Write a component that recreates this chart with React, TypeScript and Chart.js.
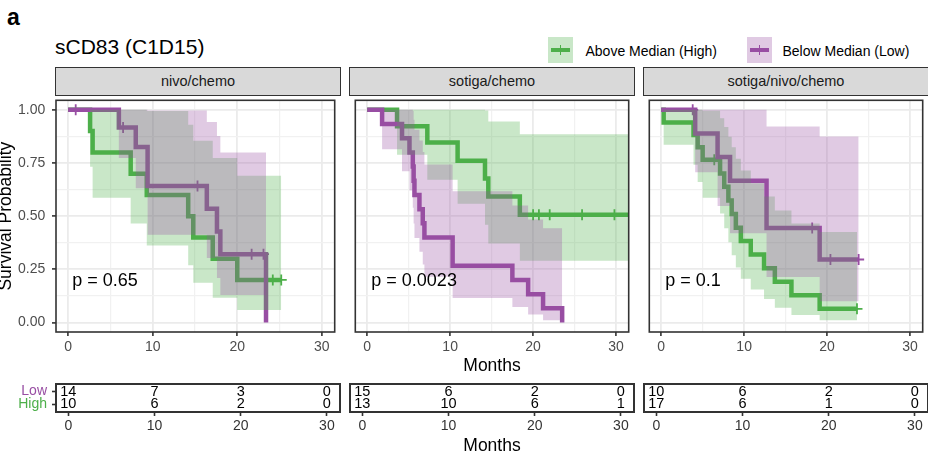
import React, { useEffect, useRef } from "react";
import { Chart, registerables } from "chart.js";

Chart.register(...registerables);

const FONT = "'Liberation Sans', Arial, Helvetica, sans-serif";
Chart.defaults.font.family = FONT;

const GREEN = "#4DAF4A";
const PURPLE = "#984EA3";
const GREEN_FILL = "rgba(77,175,74,0.3)";
const PURPLE_FILL = "rgba(152,78,163,0.3)";

// ---------- labels & ticks ----------
const figureTag = "a";
const plotTitle = "sCD83 (C1D15)";
const facetNames = ["nivo/chemo", "sotiga/chemo", "sotiga/nivo/chemo"];
const pValueLabels = ["p = 0.65", "p = 0.0023", "p = 0.1"];
const groupNames = ["Above Median (High)", "Below Median (Low)"];
const riskRowNames = ["Low", "High"];
const xMajorTicks = [0, 10, 20, 30];
const xGridTicks = [0, 5, 10, 15, 20, 25, 30];
const yMajorTicks = [0, 0.25, 0.5, 0.75, 1];
const yGridTicks = [0, 0.125, 0.25, 0.375, 0.5, 0.625, 0.75, 0.875, 1];
const riskTimes = [0, 10, 20, 30];

// ---------- nivo/chemo ----------
const nc_highTime = [0, 2.6, 2.9, 7.4, 9.3, 14.2, 14.8, 17.1, 20.0, 25.2];
const nc_highSurv = [1, 0.9, 0.8, 0.7, 0.6, 0.5, 0.4, 0.3, 0.2, 0.2];
const nc_highUpper = [1, 1, 1, 1, 0.995, 0.93, 0.855, 0.773, 0.69, 0.69];
const nc_highLower = [1, 0.732, 0.587, 0.466, 0.362, 0.269, 0.187, 0.116, 0.058, 0.058];
const nc_highCensor = [24.2, 25.2];

const nc_lowTime = [0, 6.0, 8.0, 9.4, 16.4, 17.6, 18.0, 23.4];
const nc_lowSurv = [1, 0.917, 0.825, 0.642, 0.535, 0.428, 0.321, 0];
const nc_lowUpper = [1, 1, 1, 0.997, 0.943, 0.877, 0.8, 0.8];
const nc_lowLower = [1, 0.773, 0.631, 0.413, 0.303, 0.209, 0.129, 0.129];
const nc_lowCensor = [0.9, 6.5, 15.3, 21.7, 23.1];

const nc_riskLow = [14, 7, 3, 0];
const nc_riskHigh = [10, 6, 2, 0];

// ---------- sotiga/chemo ----------
const sc_highTime = [0, 3.6, 7.25, 10.9, 14.2, 14.6, 18.4, 31.8];
const sc_highSurv = [1, 0.923, 0.846, 0.761, 0.677, 0.592, 0.507, 0.507];
const sc_highUpper = [1, 1, 1, 1, 0.997, 0.945, 0.885, 0.885];
const sc_highLower = [1, 0.789, 0.671, 0.558, 0.46, 0.371, 0.29, 0.29];
const sc_highCensor = [20.0, 20.7, 22.0, 25.9, 29.8];

const sc_lowTime = [0, 1.8, 4.2, 5.1, 5.5, 5.6, 5.7, 6.3, 6.7, 6.9, 10.3, 17.5, 19.4, 21.2, 23.5];
const sc_lowSurv = [1, 0.933, 0.867, 0.8, 0.733, 0.667, 0.6, 0.533, 0.467, 0.4, 0.267, 0.2, 0.133, 0.067, 0];
const sc_lowUpper = [1, 1, 1, 1, 0.995, 0.954, 0.907, 0.856, 0.802, 0.743, 0.617, 0.55, 0.484, 0.443, 0.443];
const sc_lowLower = [1, 0.815, 0.711, 0.621, 0.54, 0.466, 0.397, 0.332, 0.272, 0.215, 0.115, 0.073, 0.037, 0.01, 0.01];
const sc_lowCensor: number[] = [];

const sc_riskLow = [15, 6, 2, 0];
const sc_riskHigh = [13, 10, 6, 1];

// ---------- sotiga/nivo/chemo ----------
const snc_highTime = [0, 0.3, 3.9, 4.4, 5.0, 7.1, 7.6, 8.1, 8.5, 9.0, 9.6, 10.8, 12.4, 13.7, 15.7, 19.1, 23.6];
const snc_highSurv = [1, 0.941, 0.882, 0.824, 0.765, 0.701, 0.638, 0.574, 0.51, 0.446, 0.383, 0.319, 0.255, 0.191, 0.128, 0.064, 0.064];
const snc_highUpper = [1, 1, 1, 1, 0.996, 0.96, 0.919, 0.873, 0.824, 0.77, 0.715, 0.655, 0.592, 0.527, 0.466, 0.425, 0.425];
const snc_highLower = [1, 0.836, 0.742, 0.661, 0.587, 0.512, 0.443, 0.377, 0.316, 0.258, 0.205, 0.155, 0.11, 0.069, 0.035, 0.01, 0.01];
const snc_highCensor = [6.4, 23.6];

const snc_lowTime = [0, 4.1, 6.8, 8.3, 12.7, 19.1, 23.8];
const snc_lowSurv = [1, 0.889, 0.778, 0.667, 0.444, 0.296, 0.296];
const snc_lowUpper = [1, 1, 1, 1, 0.922, 0.875, 0.875];
const snc_lowLower = [1, 0.706, 0.548, 0.42, 0.214, 0.1, 0.1];
const snc_lowCensor = [3.8, 18.2, 20.4, 23.8];

const snc_riskLow = [10, 6, 2, 0];
const snc_riskHigh = [17, 6, 1, 0];

// ---------- assembled facets ----------
const facets = [
  {
    high: { time: nc_highTime, surv: nc_highSurv, upper: nc_highUpper, lower: nc_highLower, censor: nc_highCensor },
    low: { time: nc_lowTime, surv: nc_lowSurv, upper: nc_lowUpper, lower: nc_lowLower, censor: nc_lowCensor },
    riskLow: nc_riskLow,
    riskHigh: nc_riskHigh,
  },
  {
    high: { time: sc_highTime, surv: sc_highSurv, upper: sc_highUpper, lower: sc_highLower, censor: sc_highCensor },
    low: { time: sc_lowTime, surv: sc_lowSurv, upper: sc_lowUpper, lower: sc_lowLower, censor: sc_lowCensor },
    riskLow: sc_riskLow,
    riskHigh: sc_riskHigh,
  },
  {
    high: { time: snc_highTime, surv: snc_highSurv, upper: snc_highUpper, lower: snc_highLower, censor: snc_highCensor },
    low: { time: snc_lowTime, surv: snc_lowSurv, upper: snc_lowUpper, lower: snc_lowLower, censor: snc_lowCensor },
    riskLow: snc_riskLow,
    riskHigh: snc_riskHigh,
  },
];

// ---------- layout ----------
const X_MIN = -1.43;
const X_MAX = 31.52;
const Y_MIN = -0.045;
const Y_MAX = 1.045;
const PANEL_LEFT = [56, 350, 644];
const PANEL_W = 284;
const PLOT_TOP = 95;
const PLOT_H = 237;
const X_AXIS_H = 45;
const Y_AXIS_W = 60;
const PAD = 2;
const RISK_TOP = 384;
const RISK_H = 28;
const RISK_AXIS_H = 45;
const P_X = 0.5;
const P_Y = 0.195;

const pts = (xs: number[], ys: number[]) => xs.map((x, k) => ({ x, y: ys[k] }));
const stepAt = (xs: number[], ys: number[], t: number) => {
  let v = ys[0];
  for (let k = 0; k < xs.length; k++) if (xs[k] <= t) v = ys[k];
  return v;
};

const framePlugin = (lw: number) => ({
  id: "frame",
  afterDraw(chart: any) {
    const { ctx, chartArea: a } = chart;
    ctx.save();
    ctx.strokeStyle = "#333333";
    ctx.lineWidth = lw;
    ctx.strokeRect(a.left, a.top, a.right - a.left, a.bottom - a.top);
    ctx.restore();
  },
});

function KMPanel({ idx }: { idx: number }) {
  const ref = useRef<HTMLCanvasElement>(null);
  const first = idx === 0;
  const yW = first ? Y_AXIS_W : 0;
  const padLeft = first ? 0 : PAD;
  const left = PANEL_LEFT[idx] - yW - padLeft;
  const width = yW + padLeft + PANEL_W + PAD;
  const top = PLOT_TOP - PAD;
  const height = PAD + PLOT_H + X_AXIS_H;

  useEffect(() => {
    const f = facets[idx];
    const band = (c: any, key: "upper" | "lower", color: string, fill: any) => ({
      data: pts(c.time, c[key]),
      showLine: true,
      stepped: "before",
      borderWidth: 0,
      borderColor: "rgba(0,0,0,0)",
      backgroundColor: color,
      pointRadius: 0,
      pointHoverRadius: 0,
      fill,
      order: 0,
      clip: 0,
    });
    const line = (c: any, color: string) => ({
      data: pts(c.time, c.surv),
      showLine: true,
      stepped: "before",
      borderWidth: 4.5,
      borderColor: color,
      backgroundColor: color,
      borderCapStyle: "butt",
      borderJoinStyle: "miter",
      pointRadius: 0,
      pointHoverRadius: 0,
      fill: false,
      order: 1,
      clip: 0,
    });
    const censor = (c: any, color: string) => ({
      data: c.censor.map((t: number) => ({ x: t, y: stepAt(c.time, c.surv, t) })),
      showLine: false,
      pointStyle: "cross",
      pointRadius: 5.5,
      pointHoverRadius: 5.5,
      pointBorderWidth: 1.8,
      borderColor: color,
      backgroundColor: color,
      order: 1,
    });

    const isMajorX = (v: number) => xMajorTicks.includes(v);
    const isMajorY = (v: number) => yMajorTicks.includes(v);

    const pPlugin = {
      id: "pvalue",
      afterDatasetsDraw(chart: any) {
        const { ctx, scales } = chart;
        ctx.save();
        ctx.font = `18px ${FONT}`;
        ctx.fillStyle = "#000";
        ctx.textAlign = "left";
        ctx.textBaseline = "middle";
        ctx.fillText(pValueLabels[idx], scales.x.getPixelForValue(P_X), scales.y.getPixelForValue(P_Y));
        ctx.restore();
      },
    };

    const chart = new Chart(ref.current as HTMLCanvasElement, {
      type: "scatter",
      data: {
        datasets: [
          band(f.low, "upper", PURPLE_FILL, "+1"),
          band(f.low, "lower", PURPLE_FILL, false),
          band(f.high, "upper", GREEN_FILL, "+1"),
          band(f.high, "lower", GREEN_FILL, false),
          line(f.low, PURPLE),
          line(f.high, GREEN),
          censor(f.low, PURPLE),
          censor(f.high, GREEN),
        ] as any,
      },
      options: {
        responsive: false,
        animation: false,
        events: [],
        layout: { padding: { left: padLeft, right: PAD, top: PAD, bottom: 0 } },
        plugins: { legend: { display: false }, tooltip: { enabled: false } },
        scales: {
          x: {
            type: "linear",
            min: X_MIN,
            max: X_MAX,
            afterBuildTicks: (s: any) => {
              s.ticks = xGridTicks.map((v) => ({ value: v }));
            },
            afterFit: (s: any) => {
              s.height = X_AXIS_H;
              s.paddingLeft = 0;
              s.paddingRight = 0;
              s.paddingTop = 0;
              s.paddingBottom = 0;
            },
            ticks: {
              autoSkip: false,
              maxRotation: 0,
              minRotation: 0,
              padding: 2.3,
              color: "#4D4D4D",
              font: { size: 14 },
              callback: (v: any) => (isMajorX(v) ? String(v) : ""),
            },
            grid: {
              color: (c: any) => (c.tick && isMajorX(c.tick.value) ? "#EBEBEB" : "#F1F1F1"),
              lineWidth: (c: any) => (c.tick && isMajorX(c.tick.value) ? 1.8 : 1.2),
              tickColor: (c: any) => (c.tick && isMajorX(c.tick.value) ? "#333333" : "rgba(0,0,0,0)"),
              tickLength: 4,
              tickWidth: 1.6,
            },
            border: { display: false },
            title: { display: idx === 1, text: "Months", color: "#000", font: { size: 17.5 }, padding: 0 },
          },
          y: {
            type: "linear",
            min: Y_MIN,
            max: Y_MAX,
            afterBuildTicks: (s: any) => {
              s.ticks = yGridTicks.map((v) => ({ value: v }));
            },
            afterFit: (s: any) => {
              s.width = yW;
              s.paddingLeft = 0;
              s.paddingRight = 0;
              s.paddingTop = 0;
              s.paddingBottom = 0;
            },
            ticks: {
              display: first,
              autoSkip: false,
              padding: 6.7,
              color: "#4D4D4D",
              font: { size: 14 },
              callback: (v: any) => (isMajorY(v) ? Number(v).toFixed(2) : ""),
            },
            grid: {
              color: (c: any) => (c.tick && isMajorY(c.tick.value) ? "#EBEBEB" : "#F1F1F1"),
              lineWidth: (c: any) => (c.tick && isMajorY(c.tick.value) ? 1.8 : 1.2),
              tickColor: (c: any) => (c.tick && isMajorY(c.tick.value) ? "#333333" : "rgba(0,0,0,0)"),
              drawTicks: first,
              tickLength: 4,
              tickWidth: 1.6,
            },
            border: { display: false },
            title: { display: first, text: "Survival Probability", color: "#000", font: { size: 17.5 }, padding: 0 },
          },
        },
      } as any,
      plugins: [pPlugin, framePlugin(1.6)],
    });
    return () => chart.destroy();
  }, [idx]);

  return (
    <canvas
      ref={ref}
      width={width}
      height={height}
      style={{ position: "absolute", left, top, width, height }}
    />
  );
}

function RiskPanel({ idx }: { idx: number }) {
  const ref = useRef<HTMLCanvasElement>(null);
  const first = idx === 0;
  const yW = first ? Y_AXIS_W : 0;
  const padLeft = first ? 0 : PAD;
  const left = PANEL_LEFT[idx] - yW - padLeft;
  const width = yW + padLeft + PANEL_W + PAD;
  const top = RISK_TOP - PAD;
  const height = PAD + RISK_H + RISK_AXIS_H;

  useEffect(() => {
    const f = facets[idx];
    const numbersPlugin = {
      id: "riskNumbers",
      afterDatasetsDraw(chart: any) {
        const { ctx } = chart;
        ctx.save();
        ctx.font = `14.5px ${FONT}`;
        ctx.fillStyle = "#000";
        ctx.textAlign = "center";
        ctx.textBaseline = "middle";
        chart.data.datasets.forEach((ds: any, d: number) => {
          const meta = chart.getDatasetMeta(d);
          meta.data.forEach((el: any, k: number) => {
            ctx.fillText(String(ds.data[k].n), el.x, el.y);
          });
        });
        ctx.restore();
      },
    };
    const chart = new Chart(ref.current as HTMLCanvasElement, {
      type: "scatter",
      data: {
        datasets: [
          { label: riskRowNames[0], data: riskTimes.map((t, k) => ({ x: t, y: 2, n: f.riskLow[k] })), pointRadius: 0, showLine: false },
          { label: riskRowNames[1], data: riskTimes.map((t, k) => ({ x: t, y: 1, n: f.riskHigh[k] })), pointRadius: 0, showLine: false },
        ] as any,
      },
      options: {
        responsive: false,
        animation: false,
        events: [],
        layout: { padding: { left: padLeft, right: PAD, top: PAD, bottom: 0 } },
        plugins: { legend: { display: false }, tooltip: { enabled: false } },
        scales: {
          x: {
            type: "linear",
            min: X_MIN,
            max: X_MAX,
            afterBuildTicks: (s: any) => {
              s.ticks = riskTimes.map((v) => ({ value: v }));
            },
            afterFit: (s: any) => {
              s.height = RISK_AXIS_H;
              s.paddingLeft = 0;
              s.paddingRight = 0;
              s.paddingTop = 0;
              s.paddingBottom = 0;
            },
            ticks: { autoSkip: false, maxRotation: 0, minRotation: 0, padding: 1.6, color: "#333333", font: { size: 14 } },
            grid: { drawOnChartArea: false, tickLength: 4, tickWidth: 1.6, tickColor: "#333333" },
            border: { display: false },
            title: { display: idx === 1, text: "Months", color: "#000", font: { size: 17.5 }, padding: 0 },
          },
          y: {
            type: "linear",
            min: 0.4,
            max: 2.6,
            display: first,
            afterBuildTicks: (s: any) => {
              s.ticks = [{ value: 1 }, { value: 2 }];
            },
            afterFit: (s: any) => {
              s.width = yW;
              s.paddingLeft = 0;
              s.paddingRight = 0;
              s.paddingTop = 0;
              s.paddingBottom = 0;
            },
            ticks: {
              padding: 5,
              font: { size: 14 },
              color: (c: any) => (c.tick && c.tick.value === 2 ? PURPLE : GREEN),
              callback: (v: any) => (v === 2 ? riskRowNames[0] : riskRowNames[1]),
            },
            grid: { drawOnChartArea: false, tickLength: 4, tickWidth: 1.6, tickColor: "#333333" },
            border: { display: false },
          },
        },
      } as any,
      plugins: [numbersPlugin, framePlugin(2)],
    });
    return () => chart.destroy();
  }, [idx]);

  return (
    <canvas
      ref={ref}
      width={width}
      height={height}
      style={{ position: "absolute", left, top, width, height }}
    />
  );
}

const legendItems = [
  { label: groupNames[0], color: GREEN, fill: GREEN_FILL, keyLeft: 548, textLeft: 585.5 },
  { label: groupNames[1], color: PURPLE, fill: PURPLE_FILL, keyLeft: 747, textLeft: 782.5 },
];

export default function App() {
  return (
    <div
      style={{
        position: "absolute",
        left: 0,
        top: 0,
        width: 928,
        height: 462,
        overflow: "hidden",
        background: "#ffffff",
        fontFamily: FONT,
        color: "#000",
      }}
    >
      <div style={{ position: "absolute", left: 7, top: 5.5, fontSize: 23, fontWeight: "bold", lineHeight: 1, whiteSpace: "nowrap" }}>
        {figureTag}
      </div>
      <div style={{ position: "absolute", left: 55, top: 36.2, fontSize: 21, lineHeight: 1, whiteSpace: "nowrap" }}>
        {plotTitle}
      </div>

      {legendItems.map((it) => (
        <React.Fragment key={it.label}>
          <div style={{ position: "absolute", left: it.keyLeft, top: 37, width: 25, height: 26, background: it.fill }} />
          <div style={{ position: "absolute", left: it.keyLeft + 3, top: 48, width: 19, height: 4, background: it.color }} />
          <div style={{ position: "absolute", left: it.keyLeft + 11.7, top: 45, width: 1.6, height: 10, background: it.color }} />
          <div style={{ position: "absolute", left: it.textLeft, top: 43, fontSize: 14, lineHeight: "16px", whiteSpace: "nowrap", color: "#000" }}>
            {it.label}
          </div>
        </React.Fragment>
      ))}

      {facetNames.map((name, i) => (
        <div
          key={name}
          style={{
            position: "absolute",
            left: PANEL_LEFT[i] - 0.8,
            top: 67,
            width: PANEL_W + 1.6,
            height: 28.8,
            boxSizing: "border-box",
            border: "1.6px solid #333333",
            background: "#D9D9D9",
            display: "flex",
            alignItems: "center",
            justifyContent: "center",
            fontSize: 14.5,
            color: "#1A1A1A",
            whiteSpace: "nowrap",
          }}
        >
          {name}
        </div>
      ))}

      {[0, 1, 2].map((i) => (
        <KMPanel key={"km" + i} idx={i} />
      ))}
      {[0, 1, 2].map((i) => (
        <RiskPanel key={"risk" + i} idx={i} />
      ))}
    </div>
  );
}
